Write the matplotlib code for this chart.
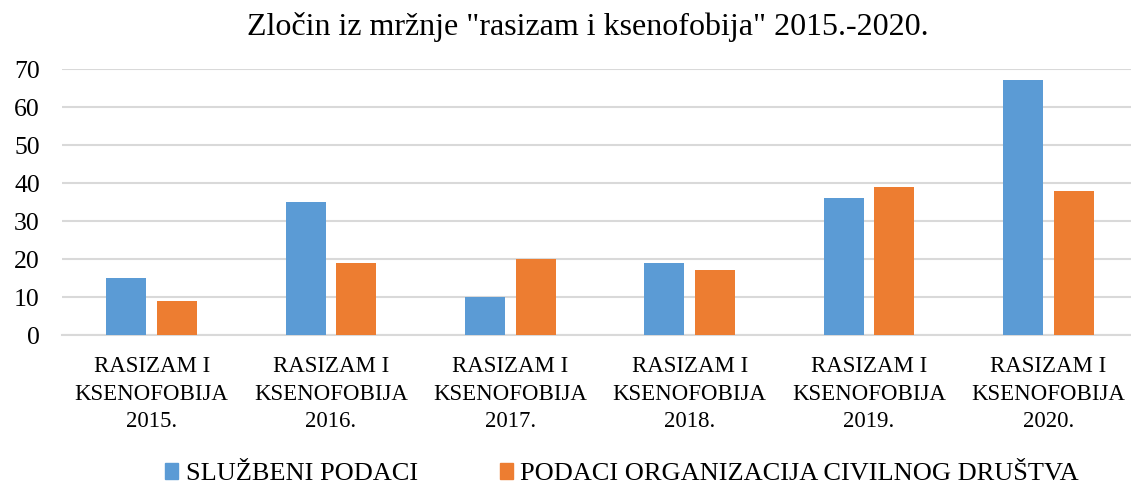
import matplotlib
matplotlib.use("Agg")
import matplotlib.pyplot as plt
import numpy as np
from matplotlib.patches import Patch

plt.rcParams['font.family'] = ['Liberation Serif', 'DejaVu Serif']

categories = ["RASIZAM I\nKSENOFOBIJA\n2015.", "RASIZAM I\nKSENOFOBIJA\n2016.",
              "RASIZAM I\nKSENOFOBIJA\n2017.", "RASIZAM I\nKSENOFOBIJA\n2018.",
              "RASIZAM I\nKSENOFOBIJA\n2019.", "RASIZAM I\nKSENOFOBIJA\n2020."]
sluzbeni = [15, 35, 10, 19, 36, 67]
civilno = [9, 19, 20, 17, 39, 38]
series_names = ["SLUŽBENI PODACI", "PODACI ORGANIZACIJA CIVILNOG DRUŠTVA"]
colors = ["#5B9BD5", "#ED7D31"]
title = "Zločin iz mržnje \"rasizam i ksenofobija\" 2015.-2020."

W, H = 1131, 484
DPI = 100
fig = plt.figure(figsize=(W/DPI, H/DPI), dpi=DPI)
left, right = 62, 1138
top, bottom = 69, 335
ax = fig.add_axes([left/W, 1-bottom/H, (right-left)/W, (bottom-top)/H])

x = np.arange(len(categories))
bw = 0.223
off = 0.142
ax.bar(x-off, sluzbeni, bw, color=colors[0], zorder=3)
ax.bar(x+off, civilno, bw, color=colors[1], zorder=3)

ax.set_xlim(-0.5, len(categories)-0.5)
ax.set_ylim(0, 70)
ax.set_yticks(range(0, 71, 10))
ax.grid(axis='y', color='#D9D9D9', linewidth=1.5, zorder=0)
for s in ['top', 'right', 'left']:
    ax.spines[s].set_visible(False)
ax.spines['bottom'].set_color('#D9D9D9')
ax.spines['bottom'].set_linewidth(1.5)
ax.set_xticks(x)
ax.set_xticklabels([])
ax.tick_params(axis='x', length=0)
ax.tick_params(axis='y', length=0, labelsize=18.5, colors='black', pad=16)

# category labels, one text per line (baselines in pixels below the axis)
line_drops_px = [37, 65, 92]
for i, cat in enumerate(categories):
    for j, line in enumerate(cat.split("\n")):
        ax.annotate(line, xy=(x[i], 0), xycoords=('data', 'axes fraction'),
                    xytext=(0, -line_drops_px[j]*72/DPI), textcoords='offset points',
                    ha='center', va='baseline', fontsize=16.5, annotation_clip=False)

fig.text(588/W, 1-35/H, title, ha='center', va='baseline', fontsize=23)

handles = [Patch(color=c) for c in colors]
fig.legend(handles, series_names, loc='center', bbox_to_anchor=(622/W, 1-474/H),
           ncol=2, frameon=False, fontsize=19, handlelength=0.49, handleheight=0.55,
           columnspacing=3.1, handletextpad=0.3, borderpad=0, borderaxespad=0)

fig.savefig("out.png", dpi=DPI)
